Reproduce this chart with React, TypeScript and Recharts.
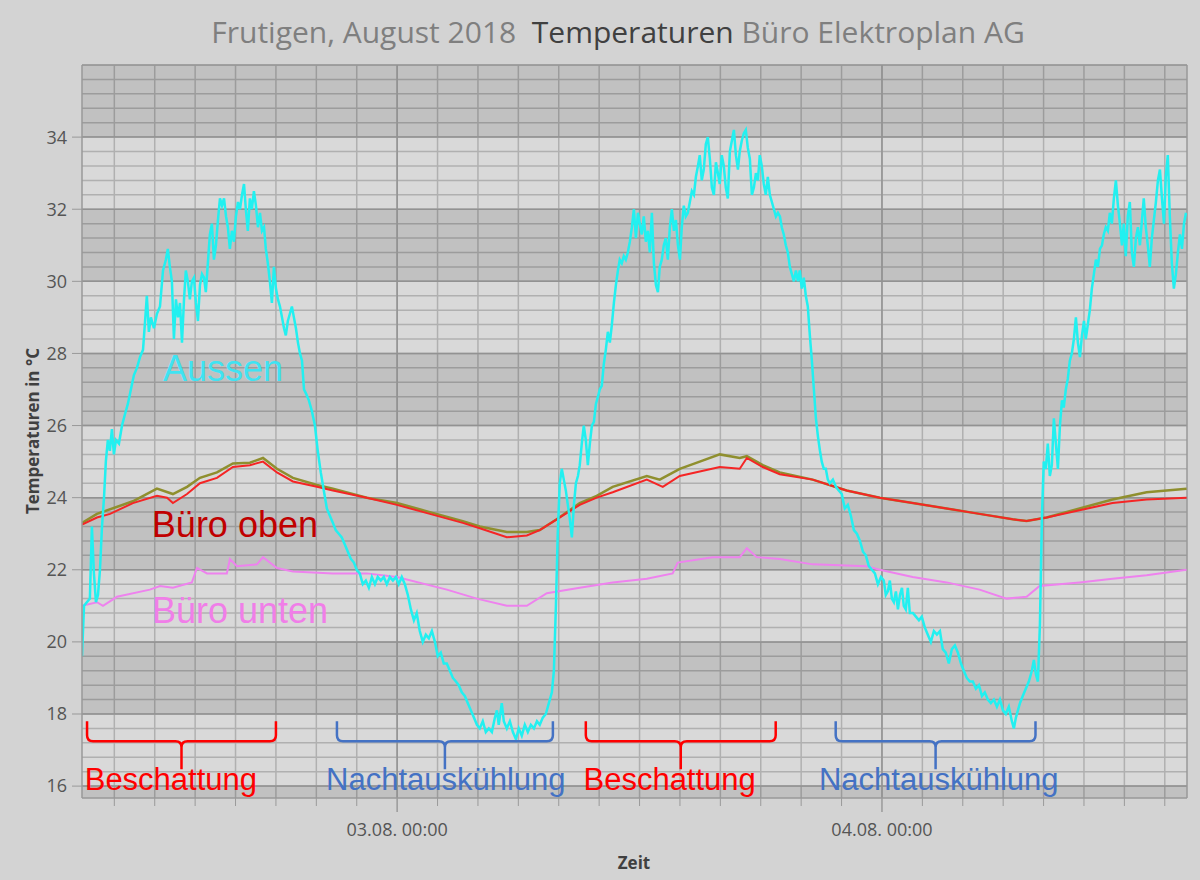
import {
  CartesianGrid,
  Line,
  LineChart,
  ReferenceArea,
  ReferenceDot,
  ReferenceLine,
  XAxis,
  YAxis,
} from "recharts";

// Zeit in Stunden ab 02.08.2018 00:00, Werte in °C
const aussen: [number, number][] = [
  [8.40, 19.6], [8.50, 21.0], [8.64, 21.1], [8.79, 21.2], [8.89, 23.2], [8.99, 21.9], [9.09, 21.1], [9.19, 21.3],
  [9.29, 22.0], [9.39, 23.2], [9.49, 24.0], [9.58, 25.0], [9.68, 25.6], [9.78, 25.3], [9.88, 25.9], [9.98, 25.2],
  [10.08, 25.6], [10.23, 25.5], [10.38, 26.0], [10.52, 26.3], [10.67, 26.6], [10.82, 27.0], [10.97, 27.4], [11.12, 27.6],
  [11.27, 27.9], [11.42, 28.1], [11.51, 28.8], [11.61, 29.6], [11.71, 28.6], [11.81, 29.0], [11.96, 28.7],
  [12.11, 29.1], [12.26, 29.3], [12.41, 30.3], [12.55, 30.6], [12.65, 30.9], [12.75, 30.4], [12.85, 30.0], [12.95, 28.4],
  [13.05, 29.5], [13.15, 29.0], [13.25, 29.4], [13.35, 28.3], [13.45, 29.5], [13.54, 30.3], [13.64, 30.0], [13.74, 29.5],
  [13.84, 30.0], [13.94, 30.1], [14.04, 29.4], [14.14, 28.9], [14.24, 29.9], [14.34, 30.2], [14.44, 30.1], [14.53, 29.7],
  [14.63, 30.5], [14.73, 31.3], [14.83, 31.6], [14.93, 30.6], [15.03, 31.0], [15.13, 31.7], [15.23, 32.3], [15.33, 32.1],
  [15.43, 32.3], [15.53, 31.8], [15.62, 31.5], [15.72, 30.9], [15.82, 31.4], [15.92, 31.1], [16.02, 31.8], [16.12, 32.2],
  [16.22, 32.0], [16.32, 32.4], [16.42, 32.7], [16.51, 32.0], [16.61, 31.4], [16.71, 32.3], [16.81, 32.0], [16.91, 32.5],
  [17.01, 32.1], [17.11, 31.5], [17.21, 31.9], [17.31, 31.4], [17.41, 31.5], [17.50, 30.9], [17.60, 30.5], [17.70, 30.0],
  [17.80, 29.4], [17.90, 30.4], [18.00, 29.8], [18.10, 29.5], [18.20, 29.3], [18.30, 29.0], [18.40, 28.7], [18.49, 28.5],
  [18.59, 28.9], [18.69, 29.1], [18.79, 29.3], [18.89, 29.0], [18.99, 28.7], [19.09, 28.3], [19.19, 28.0], [19.29, 27.8],
  [19.39, 27.0], [19.48, 26.9], [19.63, 26.7], [19.78, 26.4], [19.93, 26.0], [20.07, 25.3], [20.22, 24.7], [20.37, 24.2],
  [20.52, 23.7], [20.67, 23.5], [20.82, 23.3], [20.96, 23.1], [21.11, 23.0], [21.26, 22.9], [21.41, 22.7], [21.56, 22.5],
  [21.71, 22.3], [21.86, 22.2], [22.00, 22.0], [22.15, 21.9], [22.30, 21.6], [22.45, 21.7], [22.60, 21.5], [22.75, 21.8],
  [22.90, 21.6], [23.04, 21.8], [23.19, 21.7], [23.34, 21.8], [23.49, 21.6], [23.64, 21.8], [23.79, 21.7], [23.94, 21.8],
  [24.08, 21.6], [24.23, 21.8], [24.38, 21.6], [24.53, 21.3], [24.68, 20.9], [24.83, 20.6], [24.97, 20.8], [25.12, 20.3],
  [25.27, 20.0], [25.42, 20.2], [25.57, 20.1], [25.72, 20.3], [25.87, 20.0], [26.01, 19.6], [26.16, 19.7], [26.31, 19.4],
  [26.46, 19.4], [26.61, 19.2], [26.76, 19.0], [26.91, 18.9], [27.05, 18.8], [27.20, 18.6], [27.35, 18.5], [27.50, 18.3],
  [27.65, 18.1], [27.80, 17.9], [27.95, 17.7], [28.09, 17.6], [28.24, 17.8], [28.39, 17.5], [28.54, 17.6], [28.69, 17.5],
  [28.84, 17.9], [28.94, 18.1], [29.03, 17.7], [29.18, 18.3], [29.28, 17.8], [29.43, 17.6], [29.58, 17.8], [29.73, 17.5],
  [29.88, 17.3], [30.02, 17.6], [30.17, 17.4], [30.32, 17.7], [30.47, 17.5], [30.62, 17.7], [30.77, 17.6], [30.92, 17.8],
  [31.06, 17.7], [31.21, 17.9], [31.36, 18.0], [31.51, 18.3], [31.66, 18.6], [31.76, 19.2], [31.86, 21.0], [31.95, 23.0],
  [32.05, 24.4], [32.15, 24.8], [32.25, 24.5], [32.35, 24.2], [32.45, 23.8], [32.55, 23.4], [32.65, 22.9], [32.75, 23.8],
  [32.85, 24.4], [32.95, 24.6], [33.04, 24.9], [33.14, 25.5], [33.24, 26.0], [33.34, 25.6], [33.44, 24.9], [33.54, 25.5],
  [33.64, 26.0], [33.74, 26.1], [33.84, 26.6], [33.94, 26.8], [34.03, 27.0], [34.13, 27.1], [34.23, 27.7], [34.33, 28.1],
  [34.43, 28.6], [34.53, 28.3], [34.63, 28.8], [34.73, 29.4], [34.83, 29.9], [34.93, 30.3], [35.02, 30.6], [35.12, 30.5],
  [35.22, 30.7], [35.32, 30.6], [35.42, 30.8], [35.52, 31.1], [35.62, 31.5], [35.72, 32.0], [35.82, 31.2], [35.92, 31.9],
  [36.01, 31.6], [36.11, 31.3], [36.21, 31.8], [36.31, 31.1], [36.41, 31.4], [36.51, 30.8], [36.61, 31.9], [36.71, 30.5],
  [36.81, 29.9], [36.91, 29.7], [37.00, 30.4], [37.10, 30.6], [37.20, 31.0], [37.30, 31.2], [37.40, 30.6], [37.50, 31.5],
  [37.60, 32.0], [37.70, 31.4], [37.80, 31.7], [37.90, 31.0], [38.00, 30.6], [38.09, 31.5], [38.19, 32.1], [38.29, 31.8],
  [38.39, 31.9], [38.49, 32.2], [38.59, 32.5], [38.69, 32.4], [38.79, 32.9], [38.89, 33.2], [38.98, 33.5], [39.08, 32.8],
  [39.18, 33.1], [39.28, 33.8], [39.38, 34.0], [39.48, 33.4], [39.58, 32.6], [39.68, 32.4], [39.78, 33.3], [39.88, 33.0],
  [39.97, 32.7], [40.07, 33.5], [40.17, 33.2], [40.27, 32.6], [40.37, 32.3], [40.47, 33.6], [40.57, 33.9], [40.67, 34.2],
  [40.77, 33.5], [40.87, 33.1], [40.96, 33.6], [41.06, 33.9], [41.16, 34.1], [41.26, 34.2], [41.36, 33.7], [41.46, 33.4],
  [41.56, 32.4], [41.66, 32.6], [41.76, 33.0], [41.86, 32.8], [41.95, 33.5], [42.05, 33.2], [42.15, 32.7], [42.25, 32.4],
  [42.35, 32.9], [42.45, 32.4], [42.55, 32.2], [42.65, 32.0], [42.75, 31.8], [42.85, 31.9], [42.95, 31.8], [43.04, 31.5],
  [43.14, 31.3], [43.24, 31.0], [43.34, 30.8], [43.44, 30.4], [43.54, 30.2], [43.64, 30.0], [43.74, 30.3], [43.84, 30.0],
  [43.93, 30.3], [44.03, 29.8], [44.13, 30.1], [44.23, 29.6], [44.33, 29.3], [44.43, 28.5], [44.53, 27.8], [44.63, 27.0],
  [44.73, 26.2], [44.83, 25.7], [44.93, 25.3], [45.02, 25.0], [45.12, 24.8], [45.22, 24.8], [45.32, 24.5], [45.42, 24.4],
  [45.57, 24.5], [45.72, 24.3], [45.86, 24.2], [46.01, 24.1], [46.16, 23.7], [46.31, 23.8], [46.46, 23.5], [46.61, 23.1],
  [46.76, 23.0], [46.91, 22.8], [47.06, 22.5], [47.20, 22.4], [47.35, 22.1], [47.50, 22.0], [47.65, 21.9], [47.80, 21.6],
  [47.95, 21.8], [48.09, 21.7], [48.19, 21.3], [48.29, 21.4], [48.39, 21.7], [48.49, 21.2], [48.59, 21.1], [48.69, 21.4],
  [48.79, 20.9], [48.89, 21.3], [48.99, 21.5], [49.08, 21.0], [49.18, 20.9], [49.28, 21.5], [49.38, 20.8], [49.53, 20.8],
  [49.68, 20.7], [49.83, 20.6], [49.97, 20.7], [50.12, 20.4], [50.27, 20.2], [50.42, 20.0], [50.57, 20.3], [50.72, 20.2],
  [50.87, 20.3], [51.01, 19.8], [51.16, 19.7], [51.31, 19.4], [51.46, 19.8], [51.61, 19.9], [51.76, 19.7], [51.91, 19.4],
  [52.05, 19.2], [52.20, 19.0], [52.35, 18.9], [52.50, 18.9], [52.65, 18.7], [52.80, 18.8], [52.95, 18.5], [53.09, 18.6],
  [53.24, 18.4], [53.39, 18.3], [53.54, 18.4], [53.69, 18.2], [53.84, 18.4], [53.99, 18.1], [54.13, 18.0], [54.28, 18.2],
  [54.43, 17.8], [54.53, 17.6], [54.63, 17.9], [54.73, 18.1], [54.83, 18.3], [54.97, 18.5], [55.12, 18.7], [55.27, 18.9],
  [55.42, 19.2], [55.52, 19.5], [55.62, 19.1], [55.72, 18.9], [55.82, 20.5], [55.92, 23.5], [56.01, 25.0], [56.11, 24.8],
  [56.21, 25.5], [56.31, 24.6], [56.41, 24.9], [56.51, 26.2], [56.61, 25.5], [56.71, 24.8], [56.81, 26.0], [56.91, 26.7],
  [57.00, 26.5], [57.10, 27.0], [57.20, 27.3], [57.30, 27.8], [57.40, 28.0], [57.50, 28.4], [57.60, 29.0], [57.70, 28.3],
  [57.80, 27.9], [57.90, 28.5], [58.00, 28.9], [58.09, 28.4], [58.19, 28.8], [58.29, 29.2], [58.39, 29.8], [58.49, 30.2],
  [58.59, 30.6], [58.69, 30.4], [58.79, 30.9], [58.89, 31.0], [58.98, 31.3], [59.08, 31.5], [59.18, 31.4], [59.28, 31.9],
  [59.38, 31.6], [59.48, 32.3], [59.58, 32.8], [59.68, 32.1], [59.78, 31.6], [59.88, 31.0], [59.97, 31.6], [60.07, 30.7],
  [60.17, 31.8], [60.27, 32.2], [60.37, 30.8], [60.47, 30.4], [60.57, 31.2], [60.67, 31.5], [60.77, 31.0], [60.87, 31.7],
  [60.96, 32.3], [61.06, 31.5], [61.16, 31.0], [61.26, 30.4], [61.36, 31.2], [61.46, 31.7], [61.56, 32.2], [61.66, 32.8],
  [61.76, 33.1], [61.86, 32.3], [61.96, 31.6], [62.05, 32.9], [62.15, 33.5], [62.25, 31.8], [62.35, 30.5], [62.45, 29.8],
  [62.55, 30.2], [62.65, 30.8], [62.75, 31.3], [62.85, 30.9], [62.95, 31.6], [63.05, 31.9],
];

const bueroOben: [number, number][] = [
  [8.40, 23.25], [9.14, 23.45], [9.79, 23.55], [10.92, 23.85], [12.11, 24.05], [12.61, 24.0], [12.90, 23.85],
  [13.60, 24.1], [14.24, 24.4], [15.08, 24.55], [15.87, 24.85], [16.71, 24.9], [17.36, 25.0], [18.05, 24.7],
  [18.84, 24.45], [20.03, 24.3], [20.82, 24.2], [22.50, 24.0], [23.99, 23.8], [25.62, 23.55], [27.25, 23.3],
  [28.09, 23.15], [29.43, 22.9], [30.42, 22.95], [31.06, 23.1], [31.90, 23.4], [33.04, 23.8], [33.88, 24.0],
  [34.67, 24.15], [36.36, 24.5], [37.15, 24.3], [37.99, 24.6], [39.97, 24.85], [40.96, 24.8], [41.31, 25.1],
  [42.10, 24.85], [42.94, 24.65], [44.57, 24.5], [46.25, 24.2], [47.89, 24.0], [49.52, 23.85], [51.20, 23.7],
  [52.83, 23.55], [54.47, 23.4], [55.16, 23.35], [56.15, 23.45], [57.78, 23.65], [59.41, 23.85], [61.10, 23.95],
  [63.08, 24.0],
];

const bueroOben2: [number, number][] = [
  [8.40, 23.3], [9.14, 23.55], [10.92, 23.9], [12.11, 24.25], [12.90, 24.1], [13.60, 24.3], [14.24, 24.55],
  [15.08, 24.7], [15.87, 24.95], [16.71, 24.97], [17.36, 25.1], [18.05, 24.8], [18.84, 24.55], [20.03, 24.35],
  [20.82, 24.25], [22.50, 24.0], [23.99, 23.85], [25.62, 23.6], [27.25, 23.35], [28.09, 23.2], [29.43, 23.05],
  [30.42, 23.05], [31.06, 23.1], [31.90, 23.4], [33.04, 23.85], [33.88, 24.05], [34.67, 24.3], [36.36, 24.6],
  [37.00, 24.5], [37.99, 24.8], [38.98, 25.0], [39.97, 25.2], [40.96, 25.1], [41.31, 25.15], [42.10, 24.9],
  [42.94, 24.7], [44.57, 24.5], [46.25, 24.2], [47.89, 24.0], [49.52, 23.85], [51.20, 23.7], [52.83, 23.55],
  [54.47, 23.4], [55.16, 23.35], [56.15, 23.45], [57.78, 23.7], [59.41, 23.95], [61.10, 24.15], [63.08, 24.25],
];

const bueroUnten: [number, number][] = [
  [8.40, 21.0], [9.14, 21.1], [9.44, 21.0], [10.13, 21.25], [11.76, 21.45], [12.26, 21.55], [12.90, 21.5],
  [13.84, 21.65], [14.09, 22.05], [14.59, 21.9], [15.57, 21.9], [15.72, 22.3], [16.07, 22.1], [17.06, 22.15],
  [17.36, 22.35], [18.05, 22.05], [18.84, 21.95], [20.82, 21.9], [22.50, 21.9], [23.99, 21.8], [26.46, 21.45],
  [27.94, 21.2], [29.43, 21.0], [30.42, 21.0], [31.41, 21.35], [33.04, 21.5], [34.67, 21.65], [36.36, 21.75],
  [37.64, 21.9], [37.89, 22.2], [39.62, 22.35], [40.96, 22.35], [41.31, 22.6], [41.80, 22.35], [42.94, 22.3],
  [44.57, 22.15], [47.24, 22.1], [47.89, 22.0], [49.52, 21.8], [51.20, 21.65], [52.83, 21.45], [54.17, 21.2],
  [55.16, 21.25], [55.80, 21.55], [57.78, 21.65], [59.41, 21.75], [61.10, 21.85], [63.08, 22.0],
];

const xTicks = [10, 12, 14, 16, 18, 20, 22, 24, 26, 28, 30, 32, 34, 36, 38, 40, 42, 44, 46, 48, 50, 52, 54, 56, 58, 60, 62];
const xTickLabels: Record<number, string> = { 24: "03.08. 00:00", 48: "04.08. 00:00" };
const yTicks = [16, 18, 20, 22, 24, 26, 28, 30, 32, 34];

const phasen = [
  { von: 8.65, bis: 18.0, textBei: 12.8, text: "Beschattung", farbe: "#ff0000" },
  { von: 21.02, bis: 31.71, textBei: 26.41, text: "Nachtauskühlung", farbe: "#4472c4" },
  { von: 33.34, bis: 42.74, textBei: 37.49, text: "Beschattung", farbe: "#ff0000" },
  { von: 45.71, bis: 55.6, textBei: 50.81, text: "Nachtauskühlung", farbe: "#4472c4" },
];

const serienText = [
  { x: 15.38, y: 27.24, text: "Aussen", farbe: "#3fe3f2" },
  { x: 15.97, y: 22.9, text: "Büro oben", farbe: "#c00000" },
  { x: 16.22, y: 20.51, text: "Büro unten", farbe: "#f07ee8" },
];

const X_DOMAIN: [number, number] = [8.4, 63.1];
const Y_DOMAIN: [number, number] = [15.67, 36];
const darkBands: [number, number][] = [[15.67, 16], [18, 20], [22, 24], [26, 28], [30, 32], [34, 36]];
const minorY: number[] = [];
for (let v = 16; v < 36; v += 0.4) minorY.push(Math.round(v * 10) / 10);

const ARIAL = "'Liberation Sans', Arial, sans-serif";
const UI_FONT = "'Open Sans', 'Noto Sans', sans-serif";

const toRows = (arr: [number, number][]) => arr.map(([h, v]) => ({ h, v }));

function TimeTick({ x, y, payload }: any) {
  const major = payload.value % 24 === 0;
  return (
    <g>
      <line x1={x} x2={x} y1={y} y2={y + (major ? 14 : 8)} stroke="#9a9a9a" strokeWidth={major ? 1.5 : 1} />
      {major && (
        <text x={x} y={y + 38} textAnchor="middle" fontSize={18} fill="#555" fontFamily={UI_FONT}>
          {xTickLabels[payload.value]}
        </text>
      )}
    </g>
  );
}

function Brace({ x1, x2, y1, farbe }: any) {
  const xc = (x1 + x2) / 2;
  const yH = y1 + 20;
  const r = 6;
  const d = [
    `M${x1},${y1} L${x1},${yH - r} Q${x1},${yH} ${x1 + r},${yH} L${xc - r},${yH} Q${xc},${yH} ${xc},${yH + r} L${xc},${yH + 28}`,
    `M${xc},${yH + r} Q${xc},${yH} ${xc + r},${yH} L${x2 - r},${yH} Q${x2},${yH} ${x2},${yH - r} L${x2},${y1}`,
  ].join(" ");
  return <path d={d} fill="none" stroke={farbe} strokeWidth={2.5} />;
}

export default function App() {
  return (
    <div style={{ position: "absolute", left: 0, top: 0, width: 1200, height: 880, background: "#d3d3d3", overflow: "hidden" }}>
      <div
        style={{
          position: "absolute",
          left: 18,
          top: 11,
          width: 1200,
          textAlign: "center",
          fontFamily: UI_FONT,
          fontSize: 30,
          color: "#7f7f7f",
          whiteSpace: "pre",
        }}
      >
        Frutigen, August 2018  <span style={{ color: "#404040" }}>Temperaturen</span> Büro Elektroplan AG
      </div>
      <div
        style={{
          position: "absolute",
          left: 33 - 100,
          top: 431 - 12,
          width: 200,
          height: 24,
          lineHeight: "24px",
          textAlign: "center",
          transform: "rotate(-90deg)",
          fontFamily: UI_FONT,
          fontWeight: 700,
          fontSize: 17,
          color: "#404040",
        }}
      >
        Temperaturen in °C
      </div>
      <div
        style={{
          position: "absolute",
          left: 534,
          top: 851,
          width: 200,
          textAlign: "center",
          fontFamily: UI_FONT,
          fontWeight: 700,
          fontSize: 17,
          color: "#404040",
        }}
      >
        Zeit
      </div>
      <LineChart width={1200} height={880} margin={{ top: 65, right: 13, bottom: 32, left: 10 }} style={{ position: "absolute", left: 0, top: 0 }}>
        <CartesianGrid
          fill="#d9d9d9"
          stroke="#b0b0b0"
          strokeWidth={1.5}
          horizontalValues={minorY}
          verticalValues={xTicks}
        />
        {darkBands.map(([a, b]) => (
          <ReferenceArea key={a} y1={a} y2={b} fill="#000" fillOpacity={0.11} stroke="none" ifOverflow="hidden" />
        ))}
        {yTicks.map((v) => (
          <ReferenceLine key={`y${v}`} y={v} stroke="#929292" strokeWidth={1.5} />
        ))}
        <ReferenceLine y={36} stroke="#999" strokeWidth={1.5} />
        <ReferenceLine x={24} stroke="#929292" strokeWidth={1.5} />
        <ReferenceLine x={48} stroke="#929292" strokeWidth={1.5} />
        <ReferenceLine x={63.1} stroke="#999" strokeWidth={1.5} />
        <XAxis
          type="number"
          dataKey="h"
          domain={X_DOMAIN}
          allowDataOverflow
          ticks={xTicks}
          interval={0}
          tick={<TimeTick />}
          tickLine={false}
          tickSize={0}
          tickMargin={0}
          height={50}
          axisLine={{ stroke: "#999", strokeWidth: 1.5 }}
        />
        <YAxis
          type="number"
          domain={Y_DOMAIN}
          allowDataOverflow
          ticks={yTicks}
          interval={0}
          width={72}
          tickSize={10}
          tickMargin={5}
          tickLine={{ stroke: "#999" }}
          axisLine={{ stroke: "#999", strokeWidth: 1.5 }}
          tick={{ fontSize: 18, fill: "#555", fontFamily: UI_FONT }}
        />
        <Line data={toRows(bueroOben2)} dataKey="v" stroke="#8f8f2e" strokeWidth={2.5} dot={false} isAnimationActive={false} />
        <Line data={toRows(bueroOben)} dataKey="v" stroke="#f52525" strokeWidth={2} dot={false} isAnimationActive={false} />
        <Line data={toRows(bueroUnten)} dataKey="v" stroke="#ee82ee" strokeWidth={2} dot={false} isAnimationActive={false} />
        <Line data={toRows(aussen)} dataKey="v" stroke="#22f0f0" strokeWidth={2.5} dot={false} isAnimationActive={false} />
        {serienText.map((s) => (
          <ReferenceDot
            key={s.text}
            x={s.x}
            y={s.y}
            r={0}
            shape={(p: any) => (
              <text x={p.cx} y={p.cy} textAnchor="middle" fontSize={36} fill={s.farbe} fontFamily={ARIAL}>
                {s.text}
              </text>
            )}
          />
        ))}
        {phasen.map((ph) => (
          <ReferenceLine
            key={`b${ph.von}`}
            segment={[{ x: ph.von, y: 17.8 }, { x: ph.bis, y: 17.8 }]}
            shape={(p: any) => <Brace {...p} farbe={ph.farbe} />}
          />
        ))}
        {phasen.map((ph) => (
          <ReferenceDot
            key={`t${ph.von}`}
            x={ph.textBei}
            y={15.89}
            r={0}
            shape={(p: any) => (
              <text x={p.cx} y={p.cy} textAnchor="middle" fontSize={31} fill={ph.farbe} fontFamily={ARIAL}>
                {ph.text}
              </text>
            )}
          />
        ))}
      </LineChart>
    </div>
  );
}
